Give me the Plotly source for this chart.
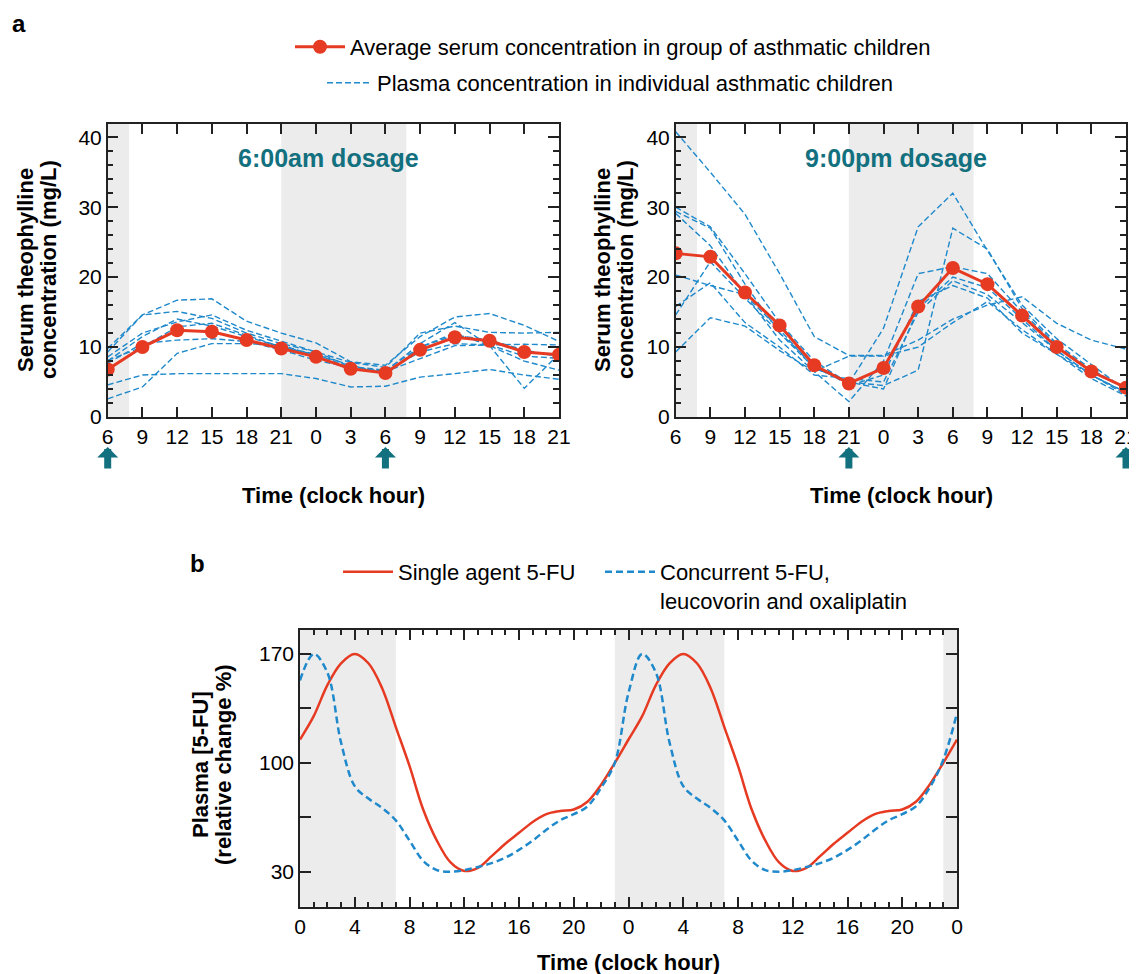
import plotly.graph_objects as go

W, H = 1137, 974
OFF = 8                      # default page margin of the html body
FW, FH = W - OFF, H - OFF
FONT = "Liberation Sans, Arial, Helvetica, sans-serif"
RED = "#e63a22"
BLUE = "#1f89cb"
TEAL = "#12707f"
SHADE = "#ececec"
AXC = "#222222"

# ---------------- Panel a data ----------------
a_hours = [0, 3, 6, 9, 12, 15, 18, 21, 24, 27, 30, 33, 36, 39]   # hours after 06:00
a_tick_labels = ["6", "9", "12", "15", "18", "21", "0", "3", "6", "9", "12", "15", "18", "21"]
a_night = [(0, 1.85), (15, 25.8)]

left_average = [6.8, 10.0, 12.4, 12.2, 11.0, 9.8, 8.6, 6.9, 6.3, 9.6, 11.4, 10.9, 9.3, 8.9]
left_individual = [
    [9.8, 14.6, 16.7, 16.9, 13.7, 12.0, 10.6, 7.9, 7.4, 11.5, 14.3, 14.8, 13.1, 10.8],
    [9.3, 14.6, 15.1, 14.1, 12.0, 10.5, 9.3, 7.8, 7.1, 12.0, 13.0, 12.1, 12.0, 12.1],
    [4.6, 6.0, 6.2, 6.2, 6.2, 6.2, 5.5, 4.3, 4.4, 5.7, 6.2, 6.8, 6.0, 5.4],
    [2.6, 4.3, 9.1, 10.5, 10.5, 10.3, 8.7, 6.8, 6.5, 8.4, 10.2, 10.3, 10.4, 10.3],
    [8.0, 11.5, 14.0, 13.0, 11.5, 10.0, 9.0, 7.0, 6.5, 10.5, 13.5, 10.2, 4.1, 9.0],
    [8.6, 12.0, 13.6, 14.6, 12.4, 10.8, 9.3, 7.2, 6.7, 10.0, 12.0, 10.2, 8.0, 6.7],
    [7.7, 10.5, 11.0, 11.2, 10.8, 9.6, 8.1, 7.1, 6.5, 9.3, 10.5, 10.3, 8.7, 8.4],
    [8.1, 10.0, 12.9, 13.4, 11.7, 10.0, 8.9, 7.4, 6.0, 10.0, 11.7, 11.0, 9.6, 8.6],
]

right_average = [23.4, 22.9, 17.8, 13.1, 7.4, 4.8, 7.0, 15.8, 21.3, 19.0, 14.5, 10.0, 6.5, 4.2]
right_individual = [
    [40.8, 35.0, 29.0, 20.5, 11.5, 8.8, 8.8, 11.0, 14.0, 16.0, 17.2, 13.4, 11.0, 9.7],
    [30.0, 27.2, 20.5, 13.5, 8.0, 4.8, 12.7, 27.2, 32.0, 23.8, 16.0, 11.2, 7.5, 3.8],
    [29.4, 27.0, 19.0, 12.0, 7.0, 5.0, 4.5, 6.7, 27.0, 24.0, 15.5, 10.5, 6.8, 4.0],
    [29.1, 24.5, 17.5, 11.0, 6.5, 2.2, 8.0, 20.5, 21.5, 20.5, 15.0, 10.3, 6.5, 4.2],
    [20.3, 18.8, 17.5, 12.5, 7.0, 5.0, 4.0, 15.5, 20.0, 18.5, 14.0, 9.5, 6.0, 3.5],
    [15.8, 19.2, 13.5, 10.0, 6.0, 5.5, 5.0, 15.0, 19.5, 17.5, 13.5, 9.5, 6.0, 3.2],
    [14.6, 22.2, 17.0, 12.0, 7.5, 4.5, 6.0, 16.5, 18.8, 17.0, 12.0, 9.0, 5.5, 3.0],
    [9.3, 14.2, 13.0, 9.5, 6.5, 8.7, 8.7, 10.0, 13.5, 16.5, 12.5, 9.0, 6.0, 3.5],
]
a_dose_left = [0, 24]     # 6:00am doses
a_dose_right = [15, 39]   # 9:00pm doses

# ---------------- Panel b data ----------------
b_hours = list(range(0, 49))
b_tick_labels = ["0", "4", "8", "12", "16", "20", "0", "4", "8", "12", "16", "20", "0"]
b_night = [(0, 7), (23, 31), (47, 48)]
b_single = [115, 130, 150, 164, 170, 164, 148, 123, 98, 70, 50, 36, 30.5, 32.5, 40, 48, 55, 62, 67, 69, 70, 75, 86, 100,
            115, 130, 150, 164, 170, 164, 148, 123, 98, 70, 50, 36, 30.5, 32.5, 40, 48, 55, 62, 67, 69, 70, 75, 86, 100,
            115]
b_combined = [153, 170, 158, 113, 85, 77, 71, 63, 50, 37, 31, 30, 31, 33, 35.5, 39, 44, 50, 57, 63, 67, 72, 84, 100,
              145, 170, 158, 113, 85, 77, 71, 63, 50, 37, 31, 30, 31, 33, 35.5, 39, 44, 50, 57, 63, 67, 72, 84, 102,
              132]


def fx(p):
    return (p - OFF) / FW


def fy(p):
    return 1 - (p - OFF) / FH


fig = go.Figure()

# panel a traces
for xa, ya, avg, indiv in [("x", "y", left_average, left_individual), ("x2", "y2", right_average, right_individual)]:
    for i, vals in enumerate(indiv):
        fig.add_trace(go.Scatter(
            x=a_hours, y=vals, xaxis=xa, yaxis=ya, mode="lines",
            line=dict(color=BLUE, width=1.4, dash="6px,3px"),
            name="Plasma concentration in individual asthmatic children",
            legend="legend2", showlegend=(xa == "x" and i == 0), hoverinfo="skip"))
    fig.add_trace(go.Scatter(
        x=a_hours, y=avg, xaxis=xa, yaxis=ya, mode="lines+markers",
        line=dict(color=RED, width=3), marker=dict(color=RED, size=14),
        name="Average serum concentration in group of asthmatic children",
        legend="legend", showlegend=(xa == "x")))

# panel b traces
fig.add_trace(go.Scatter(x=b_hours, y=b_single, xaxis="x3", yaxis="y3", mode="lines",
                         line=dict(color=RED, width=2.5, shape="spline", smoothing=1.0),
                         name="Single agent 5-FU", legend="legend3"))
fig.add_trace(go.Scatter(x=b_hours, y=b_combined, xaxis="x3", yaxis="y3", mode="lines",
                         line=dict(color=BLUE, width=2.5, dash="7px,4px", shape="spline", smoothing=1.0),
                         name="Concurrent 5-FU,<br>leucovorin and oxaliplatin", legend="legend4"))

# shading
shapes = []
for xa in ["x", "x2"]:
    for x0, x1 in a_night:
        shapes.append(dict(type="rect", xref=xa, yref=("y" if xa == "x" else "y2") + " domain",
                           x0=x0, x1=x1, y0=0, y1=1, fillcolor=SHADE, line=dict(width=0), layer="below"))
for x0, x1 in b_night:
    shapes.append(dict(type="rect", xref="x3", yref="y3 domain", x0=x0, x1=x1, y0=0, y1=1,
                       fillcolor=SHADE, line=dict(width=0), layer="below"))

tickfont = dict(family=FONT, size=21, color="black")
common = dict(showgrid=False, zeroline=False, showline=True, linecolor=AXC, linewidth=1.5,
              mirror="ticks", ticks="inside", tickcolor=AXC, tickwidth=1.5, tickfont=tickfont)

ax_a_x = dict(common, range=[0, 39], tickvals=a_hours, ticktext=a_tick_labels, ticklen=10,
              ticklabeloverflow="allow")
ax_a_y = dict(common, range=[0, 41.9], tickvals=[0, 10, 20, 30, 40], ticklen=11,
              minor=dict(dtick=2, tick0=0, ticks="inside", ticklen=6, tickcolor=AXC, tickwidth=1.5))

a_top, a_bot = 124, 417
legend_common = dict(bgcolor="rgba(0,0,0,0)", font=dict(family=FONT, size=22))
fig.update_layout(
    width=FW, height=FH, margin=dict(l=0, r=0, t=0, b=0, autoexpand=False),
    paper_bgcolor="white", plot_bgcolor="white",
    font=dict(family=FONT, color="black"),
    xaxis=dict(ax_a_x, domain=[fx(107.7), fx(559)], anchor="y"),
    yaxis=dict(ax_a_y, domain=[fy(a_bot), fy(a_top)], anchor="x"),
    xaxis2=dict(ax_a_x, domain=[fx(675.7), fx(1126)], anchor="y2"),
    yaxis2=dict(ax_a_y, domain=[fy(a_bot), fy(a_top)], anchor="x2"),
    xaxis3=dict(common, range=[0, 48], tickvals=list(range(0, 49, 4)), ticktext=b_tick_labels, ticklen=10,
                minor=dict(dtick=1, tick0=0, ticks="inside", ticklen=5, tickcolor=AXC, tickwidth=1.5),
                domain=[fx(300), fx(957)], anchor="y3"),
    yaxis3=dict(common, range=[7.5, 185.4], tickvals=[30, 100, 170], ticklen=11,
                minor=dict(tickvals=[65, 135], ticks="inside", ticklen=11, tickcolor=AXC, tickwidth=1.5),
                domain=[fy(906.7), fy(630)], anchor="x3"),
    shapes=shapes,
    legend=dict(legend_common, x=fx(290), y=fy(47), xanchor="left", yanchor="middle", itemwidth=50),
    legend2=dict(legend_common, x=fx(322), y=fy(83), xanchor="left", yanchor="middle", itemwidth=45),
    legend3=dict(legend_common, x=fx(338), y=fy(551), xanchor="left", yanchor="top", itemwidth=50),
    legend4=dict(legend_common, x=fx(600), y=fy(551), xanchor="left", yanchor="top", valign="top",
                 itemwidth=50),
    showlegend=True,
)


def label(text, px, py, size=22, color="black", angle=0, xa="paper"):
    return dict(text=text, x=fx(px) if xa == "paper" else px, y=fy(py), xref=xa, yref="paper",
                xanchor="center", yanchor="middle", textangle=angle, showarrow=False,
                font=dict(size=size, family=FONT, color=color))


ann = []
# panel labels
ann.append(label("<b>a</b>", 19, 24, size=24))
ann.append(label("<b>b</b>", 197, 563, size=24))
# dosage titles
ann.append(label("<b>6:00am dosage</b>", 0.49, 158, size=25, color=TEAL, xa="x domain"))
ann.append(label("<b>9:00pm dosage</b>", 0.49, 158, size=25, color=TEAL, xa="x2 domain"))
# axis titles
for cx in [333, 901]:
    ann.append(label("<b>Time (clock hour)</b>", cx, 495))
ann.append(label("<b>Time (clock hour)</b>", 628, 962))
for cx in [25, 602]:
    ann.append(label("<b>Serum theophylline</b>", cx, 270, angle=-90))
    ann.append(label("<b>concentration (mg/L)</b>", cx + 23, 270, angle=-90))
ann.append(label("<b>Plasma [5-FU]</b>", 200, 765, angle=-90))
ann.append(label("<b>(relative change %)</b>", 223, 765, angle=-90))
# dose arrows
for xa, doses in [("x", a_dose_left), ("x2", a_dose_right)]:
    for d in doses:
        ann.append(dict(text="", x=d, y=fy(447), xref=xa, yref="paper", ax=0, ay=23,
                        showarrow=True, arrowhead=1, arrowsize=0.5, arrowwidth=7, arrowcolor=TEAL))
fig.update_layout(annotations=ann)

fig.write_html("out.html")
